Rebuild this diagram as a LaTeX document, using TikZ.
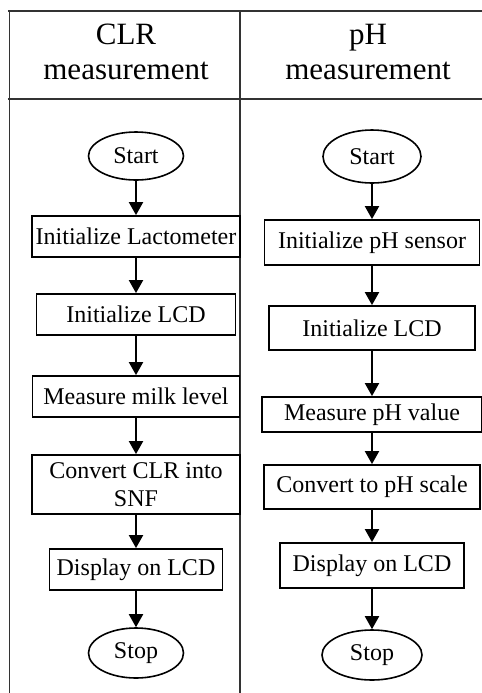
\documentclass[tikz,border=0pt]{standalone}
\usepackage{fontspec}
\setmainfont{Liberation Serif}
\usetikzlibrary{arrows.meta,shapes.geometric}
\begin{document}
\begin{tikzpicture}[
        x=0.5pt, y=-0.5pt,
        grid/.style={draw=black!80, line width=0.7pt},
        head/.style={align=center, font=\fontsize{15.5}{17.5}\selectfont},
        terminal/.style={ellipse, draw, line width=0.8pt, inner sep=0pt, font=\fontsize{12}{14}\selectfont},
        process/.style={rectangle, draw, line width=0.9pt, inner sep=0pt, align=center, font=\fontsize{12}{14}\selectfont},
        flow/.style={line width=1pt, -{Triangle[width=7pt,length=6.5pt]}}
    ]
        \useasboundingbox (0,0) rectangle (482,693);

        % table
        \draw[grid] (8,11) -- (482,11);
        \draw[grid] (8,99) -- (482,99);
        \draw[grid] (9.5,11) -- (9.5,693);
        \draw[grid] (240,11) -- (240,693);
        \node[head] (hclr) at (126,52) {CLR\\measurement};
        \node[head] (hph) at (368,52) {pH\\measurement};

        % CLR measurement
        \node[terminal, minimum width=47.5pt, minimum height=24pt] (start1) at (136,156) {Start};
        \node[process, minimum width=104pt, minimum height=20.5pt] (lact) at (136,236.5) {Initialize Lactometer};
        \node[process, minimum width=99.5pt, minimum height=20.5pt] (lcd1) at (136,314.5) {Initialize LCD};
        \node[process, minimum width=103.5pt, minimum height=20.5pt] (milk) at (136,396.5) {Measure milk level};
        \node[process, minimum width=104pt, minimum height=29.5pt] (snf) at (136,484.5) {Convert CLR into\\SNF};
        \node[process, minimum width=86.5pt, minimum height=20.5pt] (disp1) at (136,569.5) {Display on LCD};
        \node[terminal, minimum width=47.5pt, minimum height=25pt] (stop1) at (136,653) {Stop};

        \draw[flow] (start1) -- (lact);
        \draw[flow] (lact) -- (lcd1);
        \draw[flow] (lcd1) -- (milk);
        \draw[flow] (milk) -- (snf);
        \draw[flow] (snf) -- (disp1);
        \draw[flow] (disp1) -- (stop1);

        % pH measurement
        \node[terminal, minimum width=49pt, minimum height=26.5pt] (start2) at (372,156.5) {Start};
        \node[process, minimum width=107.5pt, minimum height=22.5pt] (sensor) at (372,242.5) {Initialize pH sensor};
        \node[process, minimum width=103pt, minimum height=22pt] (lcd2) at (372,328) {Initialize LCD};
        \node[process, minimum width=110pt, minimum height=17.5pt] (phval) at (372,414.5) {Measure pH value};
        \node[process, minimum width=108pt, minimum height=22pt] (scale) at (372,487) {Convert to pH scale};
        \node[process, minimum width=92pt, minimum height=22.5pt] (disp2) at (372,565.5) {Display on LCD};
        \node[terminal, minimum width=50pt, minimum height=25pt] (stop2) at (372,655) {Stop};

        \draw[flow] (start2) -- (sensor);
        \draw[flow] (sensor) -- (lcd2);
        \draw[flow] (lcd2) -- (phval);
        \draw[flow] (phval) -- (scale);
        \draw[flow] (scale) -- (disp2);
        \draw[flow] (disp2) -- (stop2);
    \end{tikzpicture}
\end{document}
